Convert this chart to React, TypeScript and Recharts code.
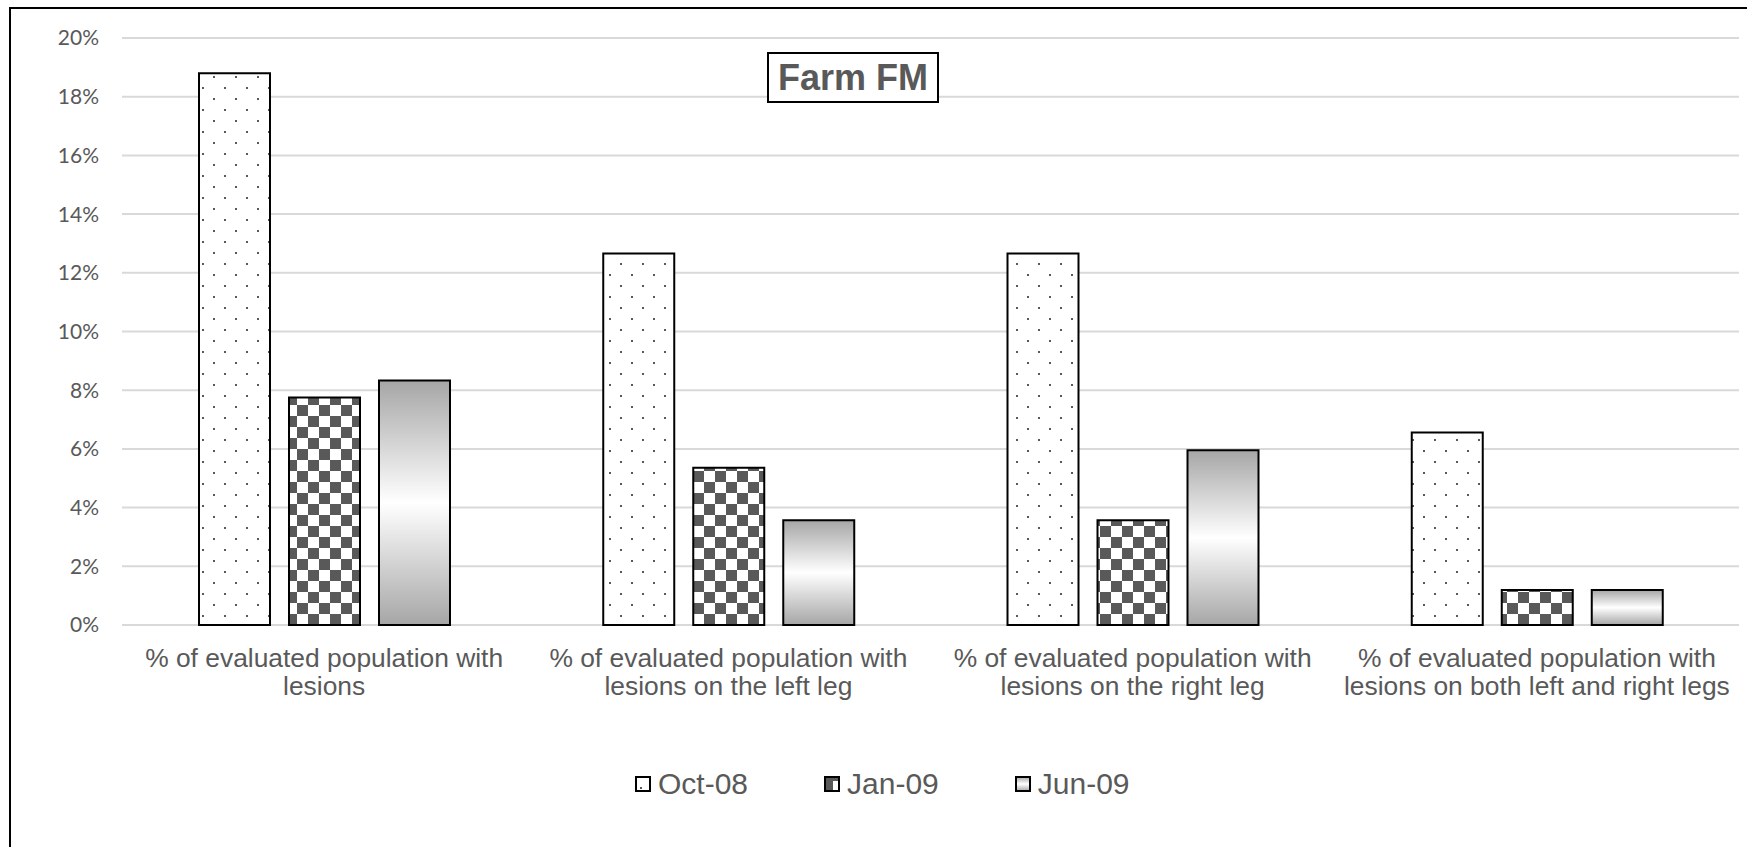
import React from 'react'
import { BarChart, Bar, XAxis, YAxis, CartesianGrid } from 'recharts'

// category labels, already split into the two lines the reference shows
const categoryLines = [
  ['% of evaluated population with', 'lesions'],
  ['% of evaluated population with', 'lesions on the left leg'],
  ['% of evaluated population with', 'lesions on the right leg'],
  ['% of evaluated population with', 'lesions on both left and right legs'],
]
const seriesNames = ['Oct-08', 'Jan-09', 'Jun-09']
const oct08 = [18.8, 12.66, 12.66, 6.56]
const jan09 = [7.75, 5.36, 3.57, 1.19]
const jun09 = [8.33, 3.57, 5.95, 1.19]
const yTicks = [0, 2, 4, 6, 8, 10, 12, 14, 16, 18, 20]

const TEXT = '#595959'
const ARIAL = '"Liberation Sans", Arial, sans-serif'

const data = categoryLines.map((lines, i) => ({
  name: lines.join(' '),
  [seriesNames[0]]: oct08[i],
  [seriesNames[1]]: jan09[i],
  [seriesNames[2]]: jun09[i],
}))

function CategoryTick({ x, y, payload }: any) {
  const idx = data.findIndex(d => d.name === payload.value)
  const lines = categoryLines[idx] ?? [payload.value]
  return (
    <text x={x} y={y} textAnchor="middle" fill={TEXT} fontSize={26.4} fontFamily={ARIAL}>
      {lines.map((l, i) => (
        <tspan key={i} x={x} dy={i === 0 ? 42 : 28}>{l}</tspan>
      ))}
    </text>
  )
}

function LegendIcon({ kind }: { kind: number }) {
  return (
    <svg width={16} height={16} style={{ display: 'block' }}>
      <rect x={1} y={1} width={14} height={14} fill={kind === 2 ? 'url(#legGrad)' : '#fff'} stroke="#000" strokeWidth={2} />
      {kind === 0 && <rect x={5} y={11} width={2} height={2} fill={TEXT} />}
      {kind === 1 && <rect x={2} y={2} width={7} height={12} fill={TEXT} />}
      {kind === 1 && <rect x={9} y={2} width={5} height={3} fill={TEXT} />}
    </svg>
  )
}

export default function App() {
  return (
    <div
      style={{
        position: 'absolute',
        left: 9,
        top: 7,
        width: 1738,
        height: 840,
        boxSizing: 'border-box',
        borderLeft: '2px solid #000',
        borderTop: '2px solid #000',
        overflow: 'hidden',
        background: '#fff',
      }}
    >
      <BarChart
        width={1736}
        height={838}
        data={data}
        margin={{ top: 29, right: 8, left: 0, bottom: 122 }}
        barSize={71}
        barGap={19}
      >
        <defs>
          <pattern id="dots" width={22} height={22} patternUnits="userSpaceOnUse">
            <rect width={22} height={22} fill="#fff" />
            <rect x={4} y={1} width={2} height={2} fill={TEXT} />
            <rect x={15} y={12} width={2} height={2} fill={TEXT} />
          </pattern>
          <pattern id="checker" width={22} height={22} patternUnits="userSpaceOnUse">
            <rect width={22} height={22} fill="#fff" />
            <rect x={0} y={0} width={11} height={11} fill={TEXT} />
            <rect x={11} y={11} width={11} height={11} fill={TEXT} />
          </pattern>
          <linearGradient id="grayGrad" x1="0" y1="0" x2="0" y2="1">
            <stop offset="0%" stopColor="#a6a6a6" />
            <stop offset="50%" stopColor="#ffffff" />
            <stop offset="100%" stopColor="#a6a6a6" />
          </linearGradient>
          <linearGradient id="legGrad" x1="0" y1="0" x2="0" y2="1">
            <stop offset="0%" stopColor="#a6a6a6" />
            <stop offset="50%" stopColor="#ffffff" />
            <stop offset="100%" stopColor="#a6a6a6" />
          </linearGradient>
        </defs>
        <CartesianGrid vertical={false} stroke="#d9d9d9" strokeWidth={2} />
        <XAxis
          dataKey="name"
          axisLine={false}
          tickLine={false}
          tickSize={0}
          tickMargin={0}
          interval={0}
          height={100}
          tick={<CategoryTick />}
        />
        <YAxis
          domain={[0, 20]}
          ticks={yTicks}
          tickFormatter={(v: number) => `${v}%`}
          axisLine={false}
          tickLine={false}
          tickSize={0}
          tickMargin={23}
          width={111}
          tick={{ fontSize: 21, fill: TEXT, fontFamily: 'Lato, sans-serif' }}
        />
        <Bar dataKey={seriesNames[0]} fill="url(#dots)" stroke="#000" strokeWidth={2} isAnimationActive={false} />
        <Bar dataKey={seriesNames[1]} fill="url(#checker)" stroke="#000" strokeWidth={2} isAnimationActive={false} />
        <Bar dataKey={seriesNames[2]} fill="url(#grayGrad)" stroke="#000" strokeWidth={2} isAnimationActive={false} />
      </BarChart>

      <div
        style={{
          position: 'absolute',
          left: 756,
          top: 43,
          width: 172,
          height: 51,
          boxSizing: 'border-box',
          border: '2px solid #000',
          background: '#fff',
          color: TEXT,
          fontFamily: ARIAL,
          fontWeight: 700,
          fontSize: 36,
          display: 'flex',
          alignItems: 'center',
          justifyContent: 'center',
        }}
      >
        Farm FM
      </div>

      <div
        style={{
          position: 'absolute',
          left: 624,
          top: 756,
          height: 38,
          display: 'flex',
          alignItems: 'center',
          gap: 76,
          fontFamily: ARIAL,
          fontSize: 30,
          color: TEXT,
        }}
      >
        {seriesNames.map((s, i) => (
          <div key={s} style={{ display: 'flex', alignItems: 'center', gap: 7 }}>
            <LegendIcon kind={i} />
            <span>{s}</span>
          </div>
        ))}
      </div>
    </div>
  )
}
